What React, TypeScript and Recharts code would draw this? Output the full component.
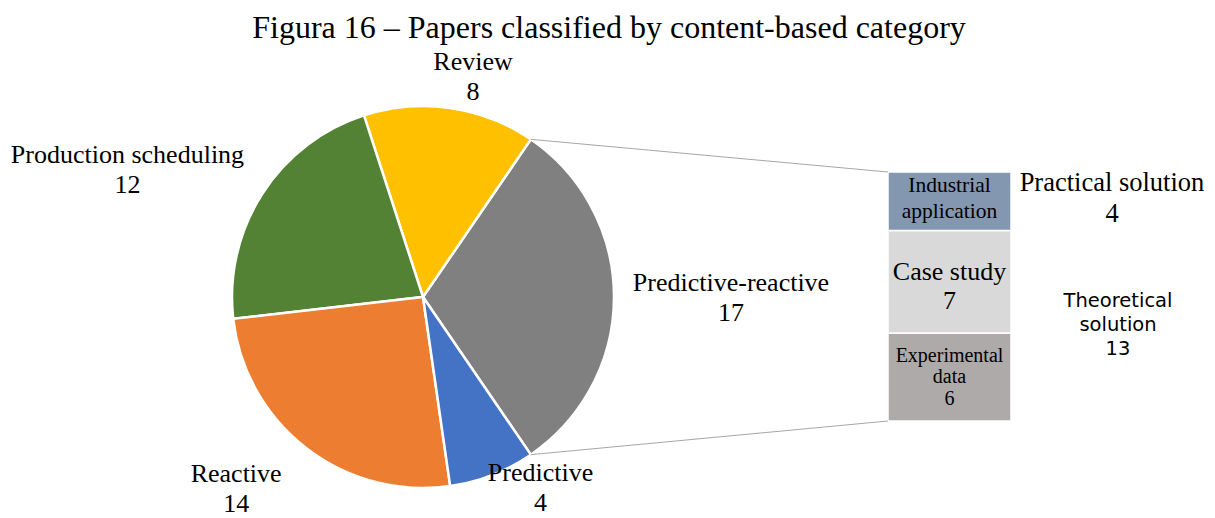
import React from "react"
import { PieChart, Pie, Cell, BarChart, Bar, XAxis, YAxis, LabelList } from "recharts"

// pie: content-based category (order = drawing order, counterclockwise from the right)
const categories = ["Predictive-reactive", "Review", "Production scheduling", "Reactive", "Predictive"]
const categoryValues = [17, 8, 12, 14, 4]
const categoryColors = ["#808080", "#FFC000", "#548235", "#ED7D31", "#4472C4"]

// bar: breakdown of Predictive-reactive (bottom to top)
const breakdownKeys = ["experimental", "caseStudy", "industrial"]
const breakdownValues = [6, 7, 4]
const breakdownColors = ["#AEAAAA", "#D9D9D9", "#8497B0"]

const serif = "'Liberation Serif', 'Times New Roman', serif"
const sans = "'DejaVu Sans', Verdana, sans-serif"

const pieData = categories.map((name, i) => ({ name, value: categoryValues[i] }))
const barRow: Record<string, number | string> = { name: "Predictive-reactive" }
breakdownKeys.forEach((k, i) => (barRow[k] = breakdownValues[i]))

const W = 1215
const H = 518
const CX = 423
const CY = 297
const R = 191
const total = categoryValues.reduce((a, b) => a + b, 0)
const half = (categoryValues[0] / total) * 180

// bar box on the page
const BX = 888
const BY = 172
const BW = 123
const BH = 249

// label nudges relative to the mid-angle point at R + 20
const labelNudge: Record<string, [number, number]> = {
  "Predictive-reactive": [97, 9],
  Review: [20, -3],
  "Production scheduling": [-118, -5],
  Reactive: [-58, 33],
  Predictive: [41, 2],
}

const barLabels: Record<string, { lines: string[]; size: number; lh: number; dy: number }> = {
  industrial: { lines: ["Industrial", "application"], size: 21.5, lh: 26, dy: 4 },
  caseStudy: { lines: ["Case study", "7"], size: 26, lh: 29, dy: 13 },
  experimental: { lines: ["Experimental", "data", "6"], size: 20, lh: 21.5, dy: 6 },
}

const RAD = Math.PI / 180

function PieLabel(props: any) {
  const { cx, cy, midAngle, outerRadius, name, value } = props
  const r = outerRadius + 20
  const [nx, ny] = labelNudge[name] || [0, 0]
  const x = cx + r * Math.cos(midAngle * RAD) + nx
  const y = cy - r * Math.sin(midAngle * RAD) + ny
  return (
    <text x={x} y={y} textAnchor="middle" fontFamily={serif} fontSize={26} fill="#000">
      <tspan x={x} y={y - 15}>{name}</tspan>
      <tspan x={x} y={y + 15}>{value}</tspan>
    </text>
  )
}

const makeBarLabel = (key: string) => (props: any) => {
  const { x, y, width, height } = props
  const cfg = barLabels[key]
  const mx = x + width / 2
  const my = y + height / 2
  const n = cfg.lines.length
  return (
    <text textAnchor="middle" fontFamily={serif} fontSize={cfg.size} fill="#000">
      {cfg.lines.map((l, i) => (
        <tspan key={i} x={mx} y={my + (i - (n - 1) / 2) * cfg.lh + cfg.dy}>
          {l}
        </tspan>
      ))}
    </text>
  )
}

export default function App() {
  const topX = CX + R * Math.cos(half * RAD)
  const topY = CY - R * Math.sin(half * RAD)
  const botY = CY + R * Math.sin(half * RAD)

  return (
    <div style={{ position: "absolute", left: 0, top: 0, width: W, height: H, background: "#fff" }}>
      <div style={{ position: "absolute", left: 0, top: 0 }}>
        <PieChart width={W} height={H} margin={{ top: 0, right: 0, bottom: 0, left: 0 }}>
          <Pie
            data={pieData}
            dataKey="value"
            nameKey="name"
            cx={CX}
            cy={CY}
            outerRadius={R}
            startAngle={-half}
            endAngle={360 - half}
            stroke="#fff"
            strokeWidth={2.5}
            label={PieLabel}
            labelLine={false}
            isAnimationActive={false}
          >
            {pieData.map((d, i) => (
              <Cell key={d.name} fill={categoryColors[i]} />
            ))}
          </Pie>
        </PieChart>
      </div>

      <div style={{ position: "absolute", left: BX, top: BY }}>
        <BarChart
          width={BW}
          height={BH}
          data={[barRow]}
          margin={{ top: 0, right: 0, bottom: 0, left: 0 }}
          barCategoryGap={0}
        >
          <XAxis dataKey="name" hide />
          <YAxis hide domain={[0, categoryValues[0]]} />
          {breakdownKeys.map((k, i) => (
            <Bar
              key={k}
              dataKey={k}
              stackId="a"
              fill={breakdownColors[i]}
              stroke="#fff"
              strokeWidth={1.5}
              isAnimationActive={false}
            >
              <LabelList dataKey={k} content={makeBarLabel(k)} />
            </Bar>
          ))}
        </BarChart>
      </div>

      <svg
        width={W}
        height={H}
        style={{ position: "absolute", left: 0, top: 0, pointerEvents: "none" }}
      >
        <text x={609} y={38} textAnchor="middle" fontFamily={serif} fontSize={32} fill="#000">
          Figura 16 – Papers classified by content-based category
        </text>
        <line x1={topX} y1={topY} x2={BX} y2={BY} stroke="#A6A6A6" strokeWidth={1} />
        <line x1={topX} y1={botY} x2={BX} y2={BY + BH} stroke="#A6A6A6" strokeWidth={1} />
        <text textAnchor="middle" fontFamily={serif} fontSize={26.5} fill="#000">
          <tspan x={1112} y={191}>Practical solution</tspan>
          <tspan x={1112} y={222}>4</tspan>
        </text>
        <text textAnchor="middle" fontFamily={sans} fontSize={19.5} fill="#000">
          <tspan x={1118} y={307}>Theoretical</tspan>
          <tspan x={1118} y={331}>solution</tspan>
          <tspan x={1118} y={355}>13</tspan>
        </text>
      </svg>
    </div>
  )
}
